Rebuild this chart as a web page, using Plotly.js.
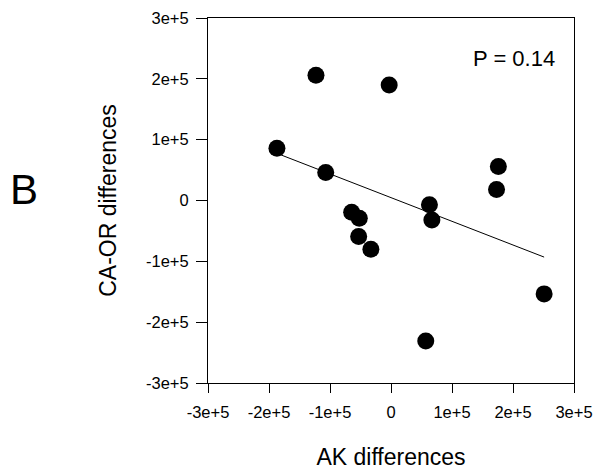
<!DOCTYPE html>
<html>
<head>
<meta charset="utf-8">
<script src="https://cdn.plot.ly/plotly-3.0.1.min.js"></script>
<style>html,body{margin:0;padding:0;background:#fff;}#chart{width:598px;height:472px;}</style>
</head>
<body>
<div id="chart"></div>
<script>
// Data
const akDiff   = [-187000, -123000, -107000, -3000, -64500, -52000, -53000, -33000, 63000, 67000, 57000, 173000, 176000, 251000];
const caorDiff = [86000, 206000, 46000, 190000, -19500, -29000, -59000, -80000, -7000, -32000, -231000, 18000, 56000, -153500];
const fitX = [-187000, 251000];
const fitY = [77500, -93000];
const tickVals = [-300000, -200000, -100000, 0, 100000, 200000, 300000];
const tickLabels = ['-3e+5', '-2e+5', '-1e+5', '0', '1e+5', '2e+5', '3e+5'];
const panelLabel = 'B';
const pLabel = 'P = 0.14';

const FONT = 'Arial, "Liberation Sans", sans-serif';

const traces = [
  {x: fitX, y: fitY, mode: 'lines', type: 'scatter', line: {color: '#000', width: 1}, hoverinfo: 'skip', showlegend: false},
  {x: akDiff, y: caorDiff, mode: 'markers', type: 'scatter', marker: {color: '#000', size: 17, line: {width: 0}}, showlegend: false}
];

const axisCommon = {
  showgrid: false, zeroline: false, showline: true, linecolor: '#000', linewidth: 1,
  mirror: true, ticks: 'outside', tickcolor: '#000', tickwidth: 1,
  tickvals: tickVals, ticktext: tickLabels, range: [-300000, 300000],
  tickfont: {family: FONT, size: 16.5, color: '#000'}, automargin: false
};

const layout = {
  width: 598, height: 472,
  margin: {l: 208, r: 24, t: 18, b: 89},
  paper_bgcolor: '#fff', plot_bgcolor: '#fff',
  font: {family: FONT, color: '#000'},
  xaxis: Object.assign({}, axisCommon, {ticklen: 9, ticklabelstandoff: 5,
    title: {text: 'AK differences', font: {family: FONT, size: 23, color: '#000'}, standoff: 29}}),
  yaxis: Object.assign({}, axisCommon, {ticklen: 11, ticklabelstandoff: 4,
    title: {text: 'CA-OR differences', font: {family: FONT, size: 23, color: '#000'}, standoff: 22}}),
  annotations: [
    {text: panelLabel, xref: 'paper', yref: 'paper', x: -0.503, y: 0.531, xanchor: 'center', yanchor: 'middle',
     showarrow: false, font: {family: FONT, size: 42, color: '#000'}},
    {text: pLabel, xref: 'paper', yref: 'paper', x: 0.954, y: 0.89, xanchor: 'right', yanchor: 'middle',
     showarrow: false, font: {family: FONT, size: 22, color: '#000'}}
  ]
};

Plotly.newPlot('chart', traces, layout, {displayModeBar: false, staticPlot: true});
</script>
</body>
</html>
